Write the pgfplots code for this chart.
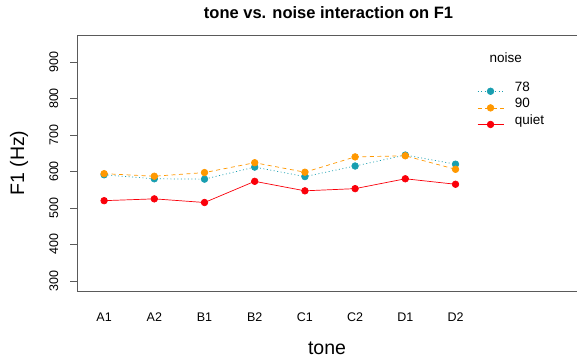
\documentclass[border=0pt]{standalone}
\usepackage{pgfplots}
\pgfplotsset{compat=1.18}
\usepackage{fontspec}
\setmainfont{Liberation Sans}
\definecolor{cteal}{RGB}{24,158,176}
\definecolor{corange}{RGB}{255,152,0}
\definecolor{cred}{RGB}{250,0,10}
\definecolor{axgray}{RGB}{90,90,90}
\begin{document}
\begin{tikzpicture}
\useasboundingbox (0pt,0pt) rectangle (577pt,358pt);
\begin{axis}[
  at={(77pt,67pt)}, anchor=south west,
  scale only axis, width=520pt, height=256pt,
  xmin=0.46, xmax=10.8186, ymin=272.5, ymax=974,
  axis line style={axgray, line width=0.8pt},
  xtick={1,...,8},
  xticklabels={A1,A2,B1,B2,C1,C2,D1,D2},
  xticklabel style={anchor=base, font=\fontsize{12.5}{14}\selectfont},
  xticklabel shift=31pt,
  ytick={300,400,...,900},
  every tick/.style={draw=none},
  major tick length=0pt,
  yticklabel style={rotate=90, anchor=base, font=\fontsize{12.5}{14}\selectfont},
  yticklabel shift=19pt,
  /pgf/number format/assume math mode=true,
  title={\textbf{tone vs. noise interaction on F1}},
  title style={at={(axis description cs:0.4837,1)}, anchor=base, yshift=10pt, font=\fontsize{16.5}{18}\selectfont},
  xlabel={tone},
  xlabel style={at={(axis description cs:0.4808,0)}, anchor=base, yshift=-64pt, font=\fontsize{19.5}{22}\selectfont},
  ylabel={F1 (Hz)},
  ylabel style={at={(axis description cs:-0.1019,0.5)}, anchor=base, font=\fontsize{19.5}{22}\selectfont},
  legend style={at={(axis description cs:0.7692,0.82)}, anchor=north west, draw=none, fill=none, inner sep=0pt,
    nodes={inner sep=0pt, text height=10pt, text depth=3pt, anchor=base west}, row sep=3.3pt, column sep=11pt,
    font=\fontsize{13.5}{15}\selectfont},
  legend cell align=left,
  legend image code/.code={\draw[mark repeat=2,mark phase=2,#1] plot coordinates {(0pt,0pt) (13pt,0pt) (26pt,0pt)};},
  clip=false,
]
\coordinate (t3) at (axis cs:0.46,300);
\coordinate (t4) at (axis cs:0.46,400);
\coordinate (t5) at (axis cs:0.46,500);
\coordinate (t6) at (axis cs:0.46,600);
\coordinate (t7) at (axis cs:0.46,700);
\coordinate (t8) at (axis cs:0.46,800);
\coordinate (t9) at (axis cs:0.46,900);
\addplot[cteal, dash pattern=on 1pt off 2.5pt, line width=0.7pt, mark=*, mark size=3.3pt, mark options={solid}] coordinates {
(1,591) (2,580) (3,579) (4,612) (5,586) (6,615) (7,645) (8,620)};
\addlegendentry{78}
\addplot[corange, dash pattern=on 4pt off 3.5pt, line width=0.7pt, mark=*, mark size=3.3pt, mark options={solid}] coordinates {
(1,594) (2,587) (3,597) (4,624) (5,598) (6,640) (7,643) (8,606)};
\addlegendentry{90}
\addplot[cred, solid, line width=0.7pt, mark=*, mark size=3.3pt] coordinates {
(1,520) (2,525) (3,515) (4,573) (5,547) (6,553) (7,580) (8,565)};
\addlegendentry{quiet}
\node[anchor=base west, font=\fontsize{13.5}{15}\selectfont] at (axis description cs:0.7865,0.8945) {noise};
\end{axis}
\foreach \t in {t3,t4,t5,t6,t7,t8,t9} {
  \draw[axgray, line width=0.9pt] (\t) -- ++(-7pt,0pt);
}
\end{tikzpicture}
\end{document}
